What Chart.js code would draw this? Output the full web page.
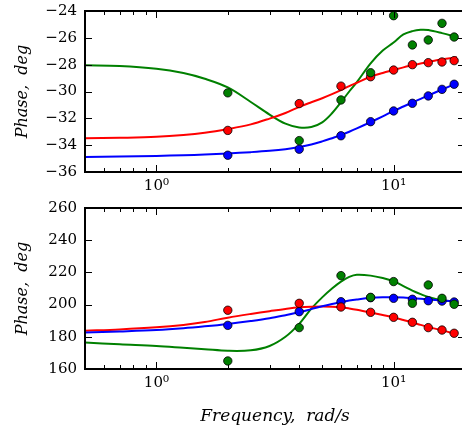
<!DOCTYPE html>
<html>
<head>
<meta charset="utf-8">
<script src="https://cdn.jsdelivr.net/npm/chart.js@4/dist/chart.umd.min.js"></script>
<style>
  html, body { margin: 0; padding: 0; background: #fff; overflow: hidden; }
  .panel { position: absolute; left: 0; }
</style>
</head>
<body>
<div class="panel" style="top:0"><canvas id="phaseTop" width="470" height="200"></canvas></div>
<div class="panel" style="top:200px"><canvas id="phaseBottom" width="470" height="235"></canvas></div>
<script>
// measured frequencies (rad/s)
const freq = [2, 4, 6, 8, 10, 12, 14, 16, 18];

// upper panel: measured phase (deg)
const topBlue = [-34.75, -34.3, -33.3, -32.25, -31.45, -30.88, -30.33, -29.84, -29.46];
const topRed = [-32.9, -30.9, -29.6, -28.9, -28.4, -28.0, -27.85, -27.8, -27.7];
const topGreen = [-30.1, -33.66, -30.63, -28.6, -24.35, -26.53, -26.16, -24.92, -25.94];

// lower panel: measured phase (deg)
const botBlue = [187.1, 195.6, 201.8, 204.3, 203.9, 203.3, 202.4, 202.2, 201.6];
const botRed = [196.5, 200.8, 198.5, 195.2, 192.1, 189.0, 185.7, 184.2, 182.2];
const botGreen = [165.0, 185.7, 218.0, 204.5, 214.3, 200.8, 212.2, 203.9, 200.2];

// fitted model curves
const fitFreq = [0.5, 0.7, 1, 1.3, 1.6, 2, 2.5, 3, 3.5, 4, 4.5, 5, 5.5, 6, 6.5, 7, 8, 9, 10, 11, 12, 13, 14, 16, 18.5];
const fitTopBlue = [-34.88, -34.85, -34.8, -34.75, -34.7, -34.62, -34.52, -34.42, -34.3, -34.14, -33.95, -33.72, -33.48, -33.25, -33.0, -32.75, -32.28, -31.85, -31.45, -31.12, -30.82, -30.55, -30.3, -29.85, -29.38];
const fitTopRed = [-33.49, -33.45, -33.38, -33.25, -33.08, -32.8, -32.45, -32.02, -31.6, -31.15, -30.8, -30.5, -30.2, -29.9, -29.6, -29.35, -28.9, -28.62, -28.4, -28.2, -28.05, -27.92, -27.8, -27.6, -27.45];
const fitTopGreen = [-28.05, -28.1, -28.3, -28.62, -29.05, -29.7, -30.78, -31.72, -32.4, -32.68, -32.65, -32.3, -31.62, -30.8, -30.0, -29.3, -27.9, -26.95, -26.35, -25.75, -25.5, -25.4, -25.42, -25.65, -25.95];
const fitBotBlue = [182.6, 183.3, 184.2, 185.3, 186.5, 188.0, 189.8, 191.5, 193.4, 195.2, 197.2, 199.0, 200.4, 201.5, 202.5, 203.2, 204.2, 204.6, 204.6, 204.4, 204.0, 203.6, 203.2, 202.6, 201.9];
const fitBotRed = [183.8, 184.6, 185.9, 187.4, 189.2, 191.9, 194.2, 195.9, 197.3, 198.3, 198.7, 198.8, 198.7, 198.3, 197.6, 196.8, 195.1, 193.5, 192.0, 190.4, 188.9, 187.4, 186.1, 184.0, 181.5];
const fitBotGreen = [176.4, 175.3, 174.3, 173.2, 172.3, 171.3, 171.6, 174.3, 180.0, 188.0, 197.5, 204.5, 210.0, 214.3, 217.2, 218.5, 218.0, 216.5, 214.5, 211.5, 208.7, 206.5, 204.7, 202.7, 201.8];

// axis ticks
const xTicks = [0.5, 0.6, 0.7, 0.8, 0.9, 1, 2, 3, 4, 5, 6, 7, 8, 9, 10, 20];
const xMajor = [1, 10];
const xLabels = { 1: '10\u2070', 10: '10\u00b9' };

const BLUE = '#0000ff', RED = '#ff0000', GREEN = '#008000';
const tickFont = { family: 'DejaVu Serif', size: 15 };
const titleFont = { family: 'DejaVu Serif', size: 16, style: 'italic' };

// frame with inward ticks on all four sides
const frameTicks = {
  id: 'frameTicks',
  afterDatasetsDraw(chart) {
    const { ctx, chartArea: a, scales: { x, y } } = chart;
    ctx.save();
    ctx.strokeStyle = '#000';
    ctx.lineWidth = 1;
    ctx.beginPath();
    x.ticks.forEach(t => {
      const px = Math.round(x.getPixelForValue(t.value)) + 0.5;
      const len = t.major ? 7 : 4;
      ctx.moveTo(px, a.bottom); ctx.lineTo(px, a.bottom - len);
      ctx.moveTo(px, a.top); ctx.lineTo(px, a.top + len);
    });
    y.ticks.forEach(t => {
      const py = Math.round(y.getPixelForValue(t.value)) + 0.5;
      ctx.moveTo(a.left, py); ctx.lineTo(a.left + 7, py);
      ctx.moveTo(a.right, py); ctx.lineTo(a.right - 7, py);
    });
    ctx.stroke();
    ctx.lineWidth = 2;
    ctx.strokeRect(a.left, a.top, a.right - a.left, a.bottom - a.top);
    ctx.restore();
  }
};

function pairs(xs, ys) {
  return xs.map((v, i) => ({ x: v, y: ys[i] }));
}

function curve(ys, color) {
  return {
    data: pairs(fitFreq, ys), showLine: true, borderColor: color, borderWidth: 2,
    pointRadius: 0, tension: 0.35, order: 10
  };
}

function dots(ys, color, order) {
  return {
    data: pairs(freq, ys), showLine: false, backgroundColor: color,
    borderColor: '#000', borderWidth: 0.8, pointRadius: 4.2, order
  };
}

function makePanel(id, series, fits, yMin, yMax, yStep, opts) {
  return new Chart(document.getElementById(id), {
    type: 'scatter',
    data: {
      datasets: [
        curve(fits[0], BLUE), curve(fits[1], RED), curve(fits[2], GREEN),
        dots(series[0], BLUE, 3), dots(series[1], RED, 2), dots(series[2], GREEN, 1)
      ]
    },
    options: {
      responsive: false,
      animation: false,
      events: [],
      layout: { padding: { top: opts.top, right: 1, left: 0, bottom: 0 } },
      plugins: { legend: { display: false }, tooltip: { enabled: false } },
      scales: {
        x: {
          type: 'logarithmic', min: 0.5, max: 20,
          grid: { display: false, drawTicks: false }, border: { display: false },
          afterBuildTicks: s => { s.ticks = xTicks.map(v => ({ value: v, major: xMajor.includes(v) })); },
          afterFit: s => { s.height = opts.xHeight; s.paddingLeft = 0; s.paddingRight = 0; },
          ticks: {
            autoSkip: false, maxRotation: 0, padding: 5, color: '#000', font: tickFont,
            callback: v => xLabels[v] || ''
          },
          title: {
            display: !!opts.xTitle, text: opts.xTitle || '', color: '#000',
            font: { family: 'DejaVu Serif', size: 17, style: 'italic' },
            padding: { top: 0, bottom: 8 }
          }
        },
        y: {
          min: yMin, max: yMax,
          grid: { display: false, drawTicks: false }, border: { display: false },
          afterFit: s => { s.width = 85; s.paddingTop = 0; s.paddingBottom = 0; },
          ticks: {
            stepSize: yStep, padding: 8, color: '#000', font: tickFont,
            callback: v => String(v).replace('-', '\u2212')
          },
          title: {
            display: true, text: 'Phase,  deg', color: '#000', font: titleFont,
            padding: { top: 13, bottom: 0 }
          }
        }
      }
    },
    plugins: [frameTicks]
  });
}

makePanel('phaseTop', [topBlue, topRed, topGreen], [fitTopBlue, fitTopRed, fitTopGreen],
  -36, -24, 2, { top: 11, xHeight: 28 });
makePanel('phaseBottom', [botBlue, botRed, botGreen], [fitBotBlue, fitBotRed, fitBotGreen],
  160, 260, 20, { top: 8, xHeight: 66, xTitle: 'Frequency,  rad/s' });
</script>
</body>
</html>
